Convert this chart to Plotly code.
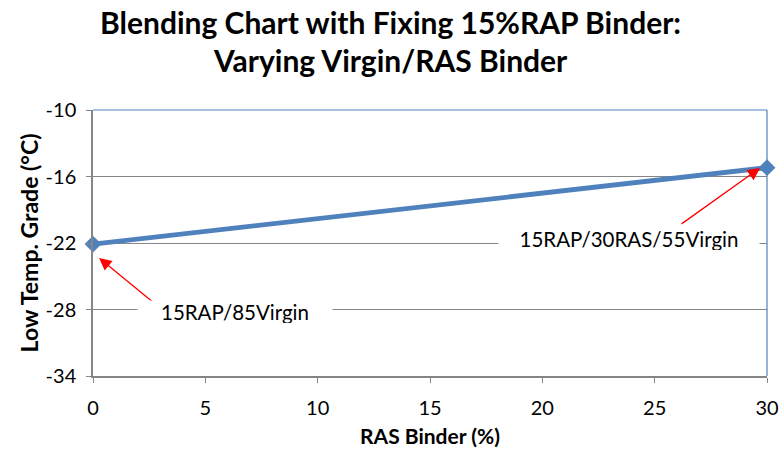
import plotly.graph_objects as go

ras_binder = [0, 30]
low_temp = [-22.1, -15.2]
x_ticks = [0, 5, 10, 15, 20, 25, 30]
y_ticks = [-34, -28, -22, -16, -10]
y_tick_text = ["-34", "-28", "-22", "-16", "-10"]

title_lines = ["Blending Chart with Fixing 15%RAP Binder:", "Varying Virgin/RAS Binder"]
labels = ["15RAP/85Virgin", "15RAP/30RAS/55Virgin"]
label_x = [6.32, 23.86]
label_y = [-28.23, -21.64]
label_w = [194, 260]
arrow_head_x = [0.27, 29.69]
arrow_head_y = [-23.35, -15.23]
arrow_ax = [61, -80]
arrow_ay = [50, 57]

FONT = "Lato, 'Open Sans', sans-serif"
BLUE = "#4F81BD"
GRAY = "#868686"

fig = go.Figure()
fig.add_trace(go.Scatter(
    x=ras_binder, y=low_temp, mode="lines+markers",
    line=dict(color=BLUE, width=4.8),
    marker=dict(symbol="diamond", size=13, color=BLUE),
    showlegend=False, cliponaxis=False,
))

annotations = []
for i in range(len(labels)):
    annotations.append(dict(
        x=arrow_head_x[i], y=arrow_head_y[i], xref="x", yref="y",
        text="", showarrow=True, arrowhead=2, arrowsize=1.9, arrowwidth=1.3,
        arrowcolor="red", ax=arrow_ax[i], ay=arrow_ay[i], standoff=0,
    ))
    annotations.append(dict(
        x=label_x[i], y=label_y[i], xref="x", yref="y",
        text=labels[i], showarrow=False, bgcolor="white",
        width=label_w[i], height=22, borderpad=0,
        font=dict(family=FONT, size=20.5, color="black"),
    ))

title_y = [1.3308, 1.1880]
for i, t in enumerate(title_lines):
    annotations.append(dict(
        x=0.4407, y=title_y[i], xref="paper", yref="paper",
        xanchor="center", yanchor="middle", text="<b>%s</b>" % t, showarrow=False,
        font=dict(family=FONT, size=30, color="black"),
    ))

fig.update_layout(
    width=784, height=455,
    margin=dict(l=93, r=17, t=110, b=79, autoexpand=False),
    paper_bgcolor="white", plot_bgcolor="white",
    font=dict(family=FONT, color="black"),
    annotations=annotations,
    shapes=[
        dict(type="line", xref="x domain", yref="y domain", x0=0, x1=1, y0=1, y1=1,
             line=dict(color=BLUE, width=1.2), layer="above"),
        dict(type="line", xref="x domain", yref="y domain", x0=1, x1=1, y0=0, y1=1,
             line=dict(color=BLUE, width=1.2), layer="above"),
    ],
)
fig.update_xaxes(
    range=[0, 30], tickvals=x_ticks, ticks="outside", ticklen=5, tickcolor=GRAY,
    showline=True, linecolor=GRAY, linewidth=1.5, showgrid=False, zeroline=False,
    tickfont=dict(family=FONT, size=20, color="black"), automargin=False,
    ticklabelstandoff=8,
    title=dict(text="RAS Binder (%)", standoff=12,
               font=dict(family=FONT, size=21, color="black", weight="bold")),
)
fig.update_yaxes(
    range=[-34, -10], tickvals=y_ticks, ticktext=y_tick_text, ticks="outside", ticklen=5,
    tickcolor=GRAY, showline=True, linecolor=GRAY, linewidth=1.5, showgrid=True,
    gridcolor=GRAY, gridwidth=1, zeroline=False, automargin=False,
    tickfont=dict(family=FONT, size=20, color="black"), ticklabelstandoff=6,
    title=dict(text="Low Temp. Grade (°C)", standoff=1,
               font=dict(family=FONT, size=23, color="black", weight="bold")),
)

fig.write_html("out.html", config={"displayModeBar": False},
               post_script="document.body.style.margin='0';")
